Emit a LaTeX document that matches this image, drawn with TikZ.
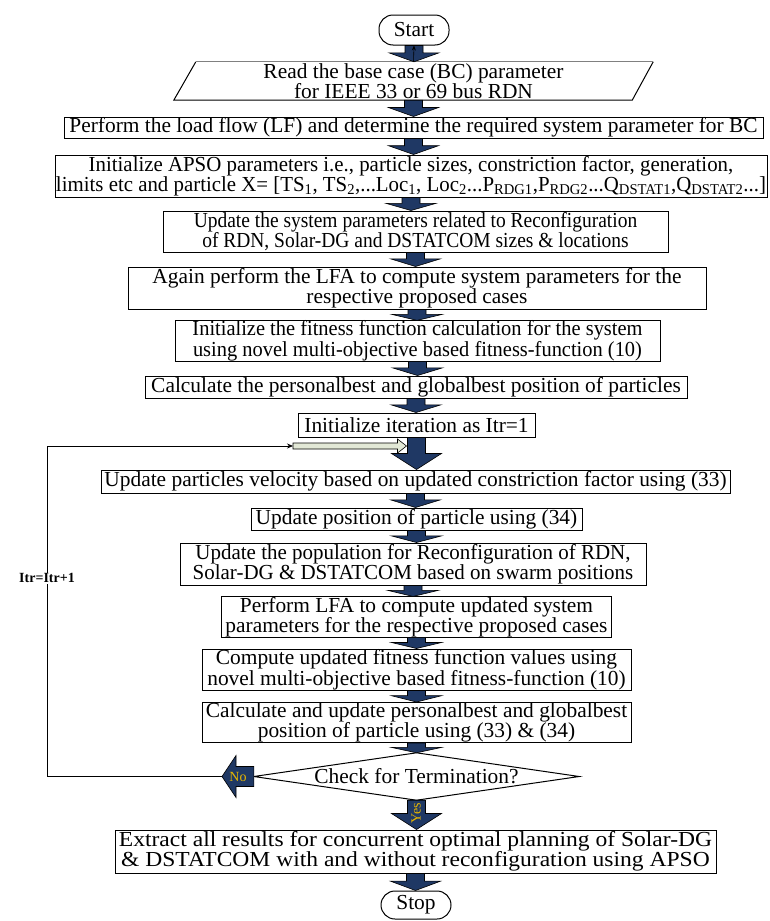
\documentclass[tikz,border=0pt]{standalone}
\usepackage{fontspec}
\setmainfont{Liberation Serif}
\usetikzlibrary{arrows.meta,calc}
\definecolor{navy}{RGB}{31,56,100}
\definecolor{gold}{RGB}{232,182,0}
\definecolor{pale}{RGB}{226,232,214}
\tikzset{
  box/.style={draw=black, line width=1pt, fill=white, inner sep=0pt, align=center,
    font=\fontsize{21.4}{20.5}\selectfont},
  term/.style={box, rounded corners=14pt},
  plain/.style={inner sep=0pt, align=center, font=\fontsize{21.4}{20.5}\selectfont},
  stretchx/.style={font=\fontsize{21.4}{20.5}\selectfont\addfontfeatures{FakeStretch=#1}},
  barrow/.style={fill=navy, draw=black, line width=0.6pt},
  warrow/.style={fill=pale, draw=black, line width=0.6pt},
  goldlbl/.style={text=gold, inner sep=0pt, font=\fontsize{14}{14}\selectfont},
  looplbl/.style={fill=white, inner sep=1pt, font=\fontsize{14}{14}\selectfont\bfseries},
  loopline/.style={draw=black, line width=0.8pt},
}
\newcommand{\blkdown}[2]{%
  \path[barrow] let \p1=(#1.south), \p2=(#2.north), \n1={min(0.55*(\y1-\y2),16pt)} in
    ({\x1-9pt},\y1) -- ({\x1-9pt},{\y2+\n1}) -- ({\x1-25pt},{\y2+\n1}) -- (\x1,\y2)
    -- ({\x1+25pt},{\y2+\n1}) -- ({\x1+9pt},{\y2+\n1}) -- ({\x1+9pt},\y1) -- cycle;}
\begin{document}
\begin{tikzpicture}[x=1pt,y=-1pt]
\useasboundingbox (0,0) rectangle (769,921);

\node[term, minimum width=70, minimum height=30] (start) at (414,30) {Start};
\node[plain, minimum width=479, minimum height=38] (read) at (413.5,81)
  {Read the base case (BC) parameter\\for IEEE 33 or 69 bus RDN};
\node[box, minimum width=699, minimum height=21] (lf) at (413.5,127.5)
  {Perform the load flow (LF) and determine the required system parameter for BC};
\node[box, stretchx=0.975, minimum width=712, minimum height=42] (apso) at (411,176)
  {Initialize APSO parameters i.e., particle sizes, constriction factor, generation,\\
   limits etc and particle X= [TS\textsubscript{1}, TS\textsubscript{2},...Loc\textsubscript{1}, Loc\textsubscript{2}...P\textsubscript{RDG1},P\textsubscript{RDG2}...Q\textsubscript{DSTAT1},Q\textsubscript{DSTAT2}...]};
\node[box, stretchx=0.91, minimum width=505, minimum height=41] (update) at (415.5,231.5)
  {Update the system parameters related to Reconfiguration\\of RDN, Solar-DG and DSTATCOM sizes \& locations};
\node[box, minimum width=578, minimum height=42] (again) at (417,288)
  {Again perform the LFA to compute system parameters for the\\respective proposed cases};
\node[box, stretchx=0.955, minimum width=485, minimum height=38] (initfit) at (417.5,341)
  {Initialize the fitness function calculation for the system\\using novel multi-objective based fitness-function (10)};
\node[box, minimum width=542, minimum height=22] (calcpb) at (416,387)
  {Calculate the personalbest and globalbest position of particles};
\node[box, minimum width=237, minimum height=24] (inititer) at (416.5,425)
  {Initialize iteration as Itr=1};
\node[box, minimum width=629, minimum height=23] (velocity) at (415.5,481.5)
  {Update particles velocity based on updated constriction factor using (33)};
\node[box, minimum width=331, minimum height=22] (position) at (416.5,519)
  {Update position of particle using (34)};
\node[box, stretchx=0.98, minimum width=466, minimum height=42] (population) at (413,564)
  {Update the population for Reconfiguration of RDN,\\Solar-DG \& DSTATCOM based on swarm positions};
\node[box, minimum width=390, minimum height=40] (perflfa) at (416.5,617)
  {Perform LFA to compute updated system\\parameters for the respective proposed cases};
\node[box, minimum width=429, minimum height=41] (compute) at (416.5,669.5)
  {Compute updated fitness function values using\\novel multi-objective based fitness-function (10)};
\node[box, minimum width=429, minimum height=39] (calcupd) at (416.5,722.5)
  {Calculate and update personalbest and globalbest\\position of particle using (33) \& (34)};
\node[plain, minimum width=325, minimum height=47] (dia) at (416.5,776.5)
  {Check for Termination?};
\node[box, stretchx=1.1, minimum width=601, minimum height=43] (extract) at (415.5,851.5)
  {Extract all results for concurrent optimal planning of Solar-DG\\\& DSTATCOM with and without reconfiguration using APSO};
\node[term, minimum width=70, minimum height=28] (stop) at (416,905) {Stop};

% parallelogram and diamond outlines
\draw[line width=1pt] (read.north east) -- ($(read.south east)+(-21,0)$) -- (read.south west) -- ($(read.north west)+(22,0)$);
\draw[line width=1.3pt, gray] ($(read.north west)+(22,0)$) -- (read.north east);
\draw[line width=1pt] (dia.west) -- (dia.north) -- (dia.east) -- (dia.south) -- cycle;

% block arrows
\blkdown{start}{read}
\draw[line width=0.6pt, -{Stealth[length=5pt,width=4pt]}] (read.north) -- (start.south);
\blkdown{read}{lf}
\blkdown{lf}{apso}
\blkdown{apso}{update}
\blkdown{update}{again}
\blkdown{again}{initfit}
\blkdown{initfit}{calcpb}
\blkdown{calcpb}{inititer}
\blkdown{inititer}{velocity}
\blkdown{velocity}{position}
\blkdown{position}{population}
\blkdown{population}{perflfa}
\blkdown{perflfa}{compute}
\blkdown{compute}{calcupd}
\blkdown{calcupd}{dia}
\blkdown{dia}{extract}
\blkdown{extract}{stop}
\node[goldlbl, rotate=90] (yes) at ($(dia.south)!0.45!(extract.north)$) {Yes};

% No arrow (pointing left)
\coordinate (notip) at (222,776.5);
\path[barrow] let \p1=(dia.west), \p2=(notip) in
  (\x1,{\y1+10pt}) -- ({\x2+14pt},{\y1+10pt}) -- ({\x2+14pt},{\y1+21pt}) -- (\x2,\y2)
  -- ({\x2+14pt},{\y1-21pt}) -- ({\x2+14pt},{\y1-10pt}) -- (\x1,{\y1-10pt}) -- cycle;
\node[goldlbl] (no) at (238,776.5) {No};

% loop back
\coordinate (wtail) at (293,446);
\coordinate (whead) at ($(inititer.south)+(-10,9)$);
\coordinate (lb) at (47,776.5);
\coordinate (lt) at (47,446);
\path[warrow] let \p1=(wtail), \p2=(whead) in
  (\x1,{\y1+3pt}) -- ({\x2-9pt},{\y1+3pt}) -- ({\x2-9pt},{\y1+7pt}) -- (\x2,\y1)
  -- ({\x2-9pt},{\y1-7pt}) -- ({\x2-9pt},{\y1-3pt}) -- (\x1,{\y1-3pt}) -- cycle;
\draw[loopline, -{Stealth[length=6pt,width=5pt]}] (notip) -- (lb) -- node[looplbl, pos=0.6] (itr) {Itr=Itr+1} (lt) -- (wtail);
\end{tikzpicture}
\end{document}
